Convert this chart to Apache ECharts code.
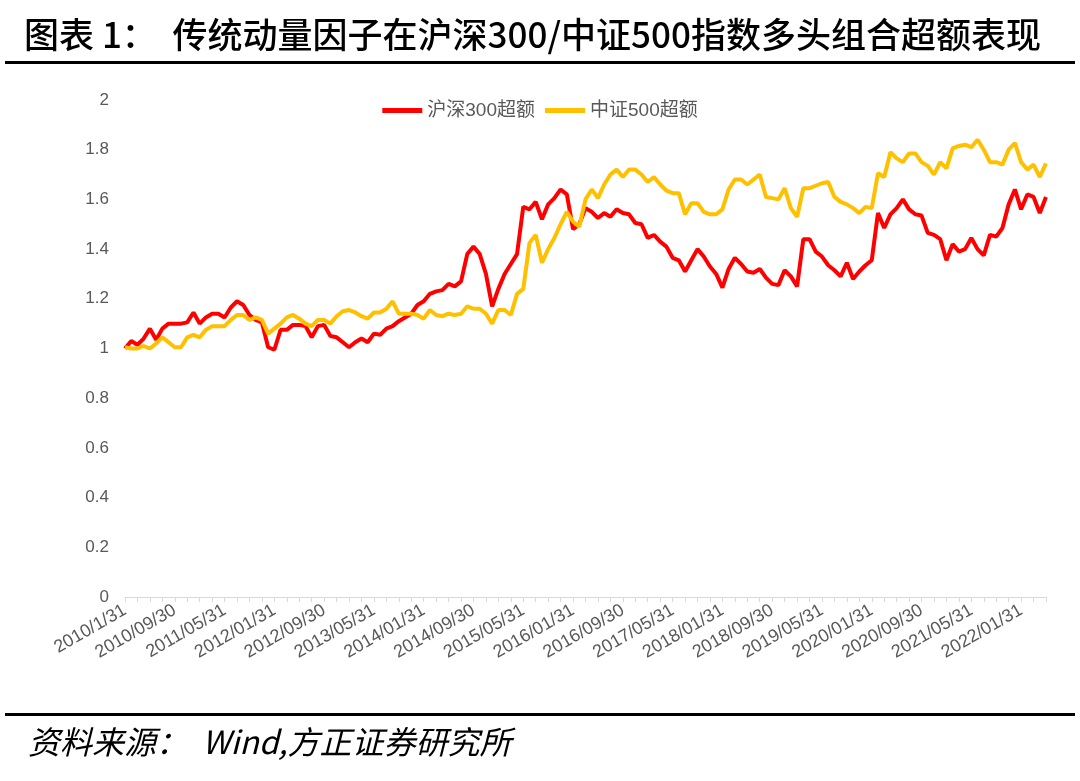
<!DOCTYPE html>
<html>
<head>
<meta charset="utf-8">
<script src="https://cdn.jsdelivr.net/npm/echarts@6/dist/echarts.min.js"></script>
<style>
  html, body { margin: 0; padding: 0; background: #fff; }
  #chart { width: 1080px; height: 781px; }
</style>
</head>
<body>
<div id="chart"></div>
<script>
// month-end dates, 2010/01 .. 2022/05
const startYear = 2010, monthCount = 149;
const categories = [];
for (let k = 0; k < monthCount; k++) {
  const y = startYear + Math.floor(k / 12), m = k % 12;
  const d = new Date(y, m + 1, 0).getDate();
  categories.push(k === 0 ? y + "/" + (m + 1) + "/" + d
    : y + "/" + String(m + 1).padStart(2, "0") + "/" + d);
}

const hs300Excess = [
  1.00, 1.03, 1.015, 1.04, 1.08, 1.035, 1.08, 1.10, 1.10, 1.10,
  1.105, 1.145, 1.10, 1.125, 1.14, 1.14, 1.125, 1.165, 1.19, 1.175,
  1.135, 1.115, 1.105, 1.005, 0.995, 1.075, 1.075, 1.095, 1.095, 1.09,
  1.045, 1.09, 1.095, 1.05, 1.045, 1.025, 1.005, 1.025, 1.04, 1.025,
  1.06, 1.055, 1.08, 1.09, 1.11, 1.125, 1.14, 1.175, 1.19, 1.22,
  1.23, 1.235, 1.26, 1.25, 1.27, 1.38, 1.41, 1.38, 1.30, 1.17,
  1.24, 1.30, 1.34, 1.38, 1.57, 1.56, 1.59, 1.52, 1.58, 1.605,
  1.64, 1.62, 1.48, 1.50, 1.565, 1.55, 1.525, 1.545, 1.53, 1.56,
  1.545, 1.54, 1.505, 1.50, 1.445, 1.457, 1.43, 1.41, 1.365, 1.355,
  1.31, 1.355, 1.40, 1.37, 1.33, 1.30, 1.245, 1.32, 1.365, 1.34,
  1.31, 1.305, 1.32, 1.285, 1.26, 1.255, 1.315, 1.29, 1.25, 1.44,
  1.44, 1.39, 1.37, 1.335, 1.315, 1.29, 1.345, 1.28, 1.31, 1.335,
  1.355, 1.545, 1.485, 1.54, 1.565, 1.60, 1.56, 1.54, 1.535, 1.465,
  1.457, 1.44, 1.355, 1.42, 1.39, 1.40, 1.445, 1.40, 1.375, 1.457,
  1.45, 1.485, 1.58, 1.64, 1.56, 1.62, 1.61, 1.545, 1.61
];

const zz500Excess = [
  1.005, 1.00, 1.00, 1.01, 1.00, 1.02, 1.045, 1.025, 1.005, 1.005,
  1.045, 1.055, 1.045, 1.075, 1.09, 1.09, 1.09, 1.115, 1.135, 1.135,
  1.115, 1.125, 1.115, 1.06, 1.08, 1.10, 1.125, 1.135, 1.12, 1.10,
  1.09, 1.115, 1.115, 1.10, 1.13, 1.15, 1.155, 1.145, 1.13, 1.12,
  1.145, 1.145, 1.16, 1.19, 1.14, 1.14, 1.14, 1.135, 1.12, 1.155,
  1.135, 1.13, 1.14, 1.135, 1.14, 1.17, 1.16, 1.16, 1.14, 1.10,
  1.155, 1.155, 1.135, 1.22, 1.24, 1.425, 1.457, 1.345, 1.40, 1.445,
  1.50, 1.55, 1.51, 1.49, 1.60, 1.64, 1.605, 1.66, 1.70, 1.72,
  1.69, 1.72, 1.72, 1.70, 1.67, 1.69, 1.66, 1.635, 1.625, 1.625,
  1.54, 1.585, 1.585, 1.55, 1.54, 1.54, 1.56, 1.64, 1.68, 1.68,
  1.66, 1.68, 1.70, 1.61, 1.605, 1.60, 1.645, 1.565, 1.53, 1.645,
  1.645, 1.655, 1.665, 1.67, 1.61, 1.59, 1.58, 1.565, 1.545, 1.57,
  1.565, 1.705, 1.69, 1.79, 1.765, 1.75, 1.785, 1.785, 1.75, 1.735,
  1.70, 1.75, 1.725, 1.805, 1.815, 1.82, 1.81, 1.84, 1.80, 1.75,
  1.75, 1.74, 1.80, 1.827, 1.75, 1.72, 1.74, 1.69, 1.745
];

const seriesNames = ["沪深300超额", "中证500超额"];
const lineColors = ["#FF0000", "#FFC000"];

const chart = echarts.init(document.getElementById("chart"));
chart.setOption({
  animation: false,
  backgroundColor: "#fff",
  textStyle: { fontFamily: "Arial, 'Liberation Sans', 'Noto Sans CJK SC'" },
  graphic: [
    {
      type: "text", left: 24, top: 17,
      style: {
        text: "图表 1：  传统动量因子在沪深300/中证500指数多头组合超额表现",
        font: "500 35px 'Noto Sans CJK SC'", fill: "#000"
      }
    },
    { type: "rect", left: 5, top: 61, shape: { width: 1070, height: 3 }, style: { fill: "#000" } },
    { type: "rect", left: 5, top: 713, shape: { width: 1070, height: 3 }, style: { fill: "#000" } },
    {
      type: "text", left: 28, top: 726,
      style: {
        text: "资料来源：  Wind,方正证券研究所",
        font: "italic 32px 'Noto Sans CJK SC'", fill: "#000"
      }
    }
  ],
  legend: {
    top: 96,
    left: "center",
    icon: "rect",
    itemWidth: 40,
    itemHeight: 5,
    itemGap: 10,
    textStyle: { fontSize: 19, color: "#595959" },
    data: seriesNames
  },
  grid: { left: 125, right: 34, top: 100, bottom: 184 },
  xAxis: {
    type: "category",
    data: categories,
    boundaryGap: false,
    axisLine: { lineStyle: { color: "#d9d9d9", width: 1 } },
    axisTick: { interval: 1, length: 5, lineStyle: { color: "#d9d9d9" } },
    axisLabel: { interval: 7, rotate: 30, fontSize: 18, color: "#595959", margin: 12 }
  },
  yAxis: {
    type: "value",
    min: 0, max: 2, interval: 0.2,
    splitLine: { show: false },
    axisLine: { show: false },
    axisTick: { show: false },
    axisLabel: { fontSize: 17, color: "#595959", margin: 16 }
  },
  series: [
    {
      name: seriesNames[0], type: "line", data: hs300Excess,
      showSymbol: false, symbol: "none",
      itemStyle: { color: lineColors[0] },
      lineStyle: { color: lineColors[0], width: 4 }
    },
    {
      name: seriesNames[1], type: "line", data: zz500Excess,
      showSymbol: false, symbol: "none",
      itemStyle: { color: lineColors[1] },
      lineStyle: { color: lineColors[1], width: 4 }
    }
  ]
});
</script>
</body>
</html>
